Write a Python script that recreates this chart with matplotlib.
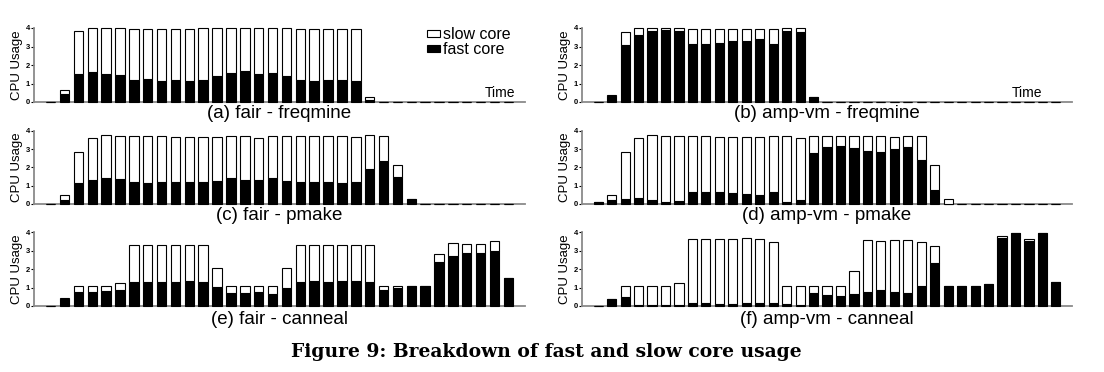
import numpy as np
import matplotlib
matplotlib.use("Agg")
import matplotlib.pyplot as plt

plt.rcParams['font.family'] = ['Liberation Sans', 'DejaVu Sans']

# fast core / slow core usage per time step
fair_freqmine_fast = [0, 0.42, 1.52, 1.6, 1.5, 1.47, 1.2, 1.23, 1.15, 1.2, 1.13, 1.2, 1.4, 1.55,
                      1.68, 1.52, 1.57, 1.43, 1.2, 1.15, 1.18, 1.17, 1.13, 0.1] + [0] * 10
fair_freqmine_slow = [0, 0.22, 2.30, 2.40, 2.50, 2.51, 2.76, 2.73, 2.81, 2.76, 2.80, 2.78, 2.58, 2.45,
                      2.32, 2.48, 2.41, 2.55, 2.76, 2.81, 2.78, 2.79, 2.83, 0.15] + [0] * 10

amp_freqmine_fast = [0, 0.31, 3.08, 3.63, 3.82, 3.9, 3.85, 3.15, 3.15, 3.2, 3.3, 3.3, 3.38, 3.15,
                     3.82, 3.76, 0.25] + [0] * 18
amp_freqmine_slow = [0, 0.06, 0.68, 0.37, 0.18, 0.10, 0.15, 0.81, 0.81, 0.76, 0.66, 0.66, 0.58, 0.81,
                     0.18, 0.24, 0] + [0] * 18

fair_pmake_fast = [0, 0.24, 1.15, 1.3, 1.43, 1.36, 1.19, 1.17, 1.23, 1.19, 1.19, 1.2, 1.28, 1.43,
                   1.32, 1.3, 1.43, 1.25, 1.19, 1.19, 1.19, 1.17, 1.19, 1.93, 2.38, 1.5, 0.25] + [0] * 7
fair_pmake_slow = [0, 0.24, 1.71, 2.33, 2.33, 2.34, 2.51, 2.53, 2.52, 2.49, 2.49, 2.46, 2.38, 2.27,
                   2.38, 2.32, 2.32, 2.47, 2.51, 2.53, 2.56, 2.58, 2.46, 1.83, 1.34, 0.65, 0] + [0] * 7

amp_pmake_fast = [0.1, 0.22, 0.26, 0.33, 0.22, 0.11, 0.18, 0.66, 0.68, 0.68, 0.6, 0.57, 0.48, 0.66,
                  0.1, 0.22, 2.77, 3.14, 3.17, 3.06, 2.93, 2.84, 3.0, 3.14, 2.4, 0.75, 0] + [0] * 8
amp_pmake_slow = [0, 0.26, 2.60, 3.30, 3.54, 3.59, 3.52, 3.04, 3.07, 3.0, 3.08, 3.09, 3.18, 3.04,
                  3.6, 3.4, 0.98, 0.58, 0.53, 0.66, 0.79, 0.91, 0.65, 0.61, 1.32, 1.4, 0.25] + [0] * 8

fair_canneal_fast = [0, 0.4, 0.75, 0.75, 0.8, 0.85, 1.3, 1.3, 1.3, 1.3, 1.35, 1.3, 1.05, 0.72, 0.72,
                     0.75, 0.65, 1.0, 1.3, 1.35, 1.3, 1.35, 1.35, 1.3, 0.85, 0.95, 1.07, 1.07, 2.4,
                     2.7, 2.88, 2.85, 2.97, 1.5]
fair_canneal_slow = [0, 0.05, 0.33, 0.35, 0.30, 0.40, 2.0, 2.0, 2.0, 2.0, 1.95, 2.0, 1.0, 0.38, 0.36,
                     0.33, 0.43, 1.05, 2.0, 1.95, 2.0, 1.95, 1.95, 1.98, 0.25, 0.12, 0, 0, 0.42,
                     0.68, 0.48, 0.50, 0.53, 0]

amp_canneal_fast = [0, 0.36, 0.5, 0.05, 0.03, 0.03, 0.05, 0.18, 0.15, 0.12, 0.12, 0.15, 0.15, 0.18,
                    0.1, 0.05, 0.72, 0.58, 0.52, 0.65, 0.78, 0.85, 0.78, 0.68, 1.1, 2.35, 1.08, 1.07,
                    1.08, 1.17, 3.65, 3.95, 3.5, 3.95, 1.28]
amp_canneal_slow = [0, 0, 0.58, 1.03, 1.05, 1.05, 1.17, 3.42, 3.45, 3.51, 3.52, 3.5, 3.48, 3.29,
                    1.0, 1.03, 0.36, 0.5, 0.56, 1.22, 2.77, 2.68, 2.78, 2.89, 2.35, 0.88, 0, 0,
                    0, 0, 0.15, 0, 0.1, 0, 0]

panels = [
    ("(a) fair - freqmine", fair_freqmine_fast, fair_freqmine_slow),
    ("(b) amp-vm - freqmine", amp_freqmine_fast, amp_freqmine_slow),
    ("(c) fair - pmake", fair_pmake_fast, fair_pmake_slow),
    ("(d) amp-vm - pmake", amp_pmake_fast, amp_pmake_slow),
    ("(e) fair - canneal", fair_canneal_fast, fair_canneal_slow),
    ("(f) amp-vm - canneal", amp_canneal_fast, amp_canneal_slow),
]

W, H = 1104, 372
fig = plt.figure(figsize=(W / 100, H / 100), dpi=100)

lefts = [34, 582]
rights = [525, 1072]
rows = [(28, 102, 113), (131, 204, 215), (232, 306, 319)]

for i, (title, fast, slow) in enumerate(panels):
    col = i % 2
    top, bot, ty = rows[i // 2]
    ax = fig.add_axes([lefts[col] / W, 1 - bot / H, (rights[col] - lefts[col]) / W, (bot - top) / H])
    x = np.arange(len(fast))
    fb = ax.bar(x, fast, width=0.68, color='black', edgecolor='black', linewidth=0.8, clip_on=False, zorder=3)
    sb = ax.bar(x, slow, bottom=fast, width=0.68, color='white', edgecolor='black', linewidth=0.8,
                clip_on=False, zorder=3)
    ax.set_xlim(-1.2, len(fast) - 1 + 1.2)
    ax.set_ylim(0, 4)
    ax.set_yticks([0, 1, 2, 3, 4])
    ax.set_xticks([])
    ax.tick_params(axis='y', labelsize=5.5, length=2, width=0.8, pad=1)
    for t in ax.get_yticklabels():
        t.set_fontweight('bold')
    for s in ['top', 'right']:
        ax.spines[s].set_visible(False)
    for s in ['left', 'bottom']:
        ax.spines[s].set_color('#8a8a8a')
        ax.spines[s].set_linewidth(1.3)
    ax.set_ylabel("CPU Usage", fontsize=9.5, labelpad=2)
    fig.text((lefts[col] + rights[col]) / 2 / W, 1 - ty / H, title, ha='center', va='center', fontsize=13.5)
    if i == 0:
        ax.legend([sb, fb], ["slow core", "fast core"], loc='upper left', bbox_to_anchor=(0.785, 1.12),
                  frameon=False, fontsize=11.5, handlelength=0.8, handleheight=0.3,
                  handletextpad=0.2, labelspacing=0.0, borderpad=0)
        ax.text(0.98, 0.03, "Time", transform=ax.transAxes, ha='right', va='bottom', fontsize=10)
    if i == 1:
        ax.text(0.94, 0.03, "Time", transform=ax.transAxes, ha='right', va='bottom', fontsize=10)

fig.text(546 / W, 1 - 352 / H, "Figure 9: Breakdown of fast and slow core usage", ha='center', va='center',
         fontsize=13.5, fontweight='bold', family='DejaVu Serif')

fig.savefig("out.png", dpi=100)
